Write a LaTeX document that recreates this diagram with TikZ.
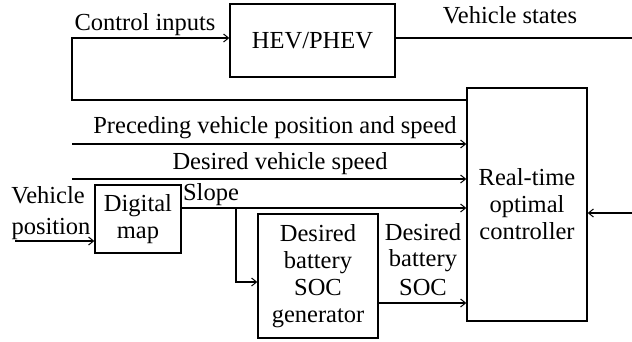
\documentclass[tikz,border=0pt]{standalone}
\usepackage{fontspec}
\setmainfont{Liberation Serif}
\usetikzlibrary{arrows.meta}
\begin{document}
\begin{tikzpicture}[x=1pt,y=-1pt, line width=1.3pt,
  box/.style={draw, line width=1.3pt, inner sep=0pt, align=center, font=\fontsize{24.5}{27}\selectfont},
  lbl/.style={font=\fontsize{24.5}{27}\selectfont, inner sep=0pt, align=center},
  arr/.style={-{Straight Barb[length=5pt,width=8pt,line width=1pt]}}]
\useasboundingbox (0,0) rectangle (632,341);
% boxes
\node[box, minimum width=165pt, minimum height=73pt] (hev) at (312.5,40.5) {HEV/PHEV};
\node[box, minimum width=120pt, minimum height=233pt] (ctrl) at (527,204.5) {Real-time\\optimal\\controller};
\node[box, minimum width=86pt, minimum height=68pt] (map) at (138,219) {Digital\\map};
\node[box, minimum width=120pt, minimum height=124pt] (soc) at (318,276) {Desired\\battery\\SOC\\generator};
% helper coordinates
\coordinate (y38) at (0,38);
\coordinate (y100) at (0,100);
\coordinate (y144) at (0,144);
\coordinate (y179) at (0,179);
\coordinate (y208) at (0,208);
\coordinate (y213) at (0,213);
\coordinate (y241) at (0,241);
\coordinate (y282) at (0,282);
\coordinate (y303) at (0,303);
\coordinate (fbB) at (72,100);
\coordinate (fbT) at (72,38);
\coordinate (vsEnd) at (632,38);
\coordinate (rIn) at (632,213);
\coordinate (pvStart) at (72,144);
\coordinate (dsStart) at (72,179);
\coordinate (brTop) at (236,208);
\coordinate (brBot) at (236,282);
\coordinate (vpStart) at (15,241);
% connectors
\draw[arr] (ctrl.west |- y100) -- (fbB) -- (fbT) -- (hev.west |- y38);
\draw (hev.east |- y38) -- (vsEnd);
\draw[arr] (rIn) -- (ctrl.east |- y213);
\draw[arr] (pvStart) -- (ctrl.west |- y144);
\draw[arr] (dsStart) -- (ctrl.west |- y179);
\draw[arr] (map.east |- y208) -- (ctrl.west |- y208);
\draw[arr] (brTop) -- (brBot) -- (soc.west |- y282);
\draw[arr] (soc.east |- y303) -- (ctrl.west |- y303);
\draw[arr] (vpStart) -- (map.west |- y241);
% labels
\node[lbl, anchor=base] (lci) at (145,30) {Control inputs};
\node[lbl, anchor=base] (lvs) at (510,23) {Vehicle states};
\node[lbl, anchor=base] (lpv) at (275,133) {Preceding vehicle position and speed};
\node[lbl, anchor=base] (lds) at (280,169) {Desired vehicle speed};
\node[lbl, anchor=base] (lsl) at (211,200) {Slope};
\node[lbl, anchor=base] (lvp1) at (48,203) {Vehicle};
\node[lbl, anchor=base] (lvp2) at (51,234) {position};
\node[lbl, anchor=base] (lso1) at (423,240) {Desired};
\node[lbl, anchor=base] (lso2) at (423,266) {battery};
\node[lbl, anchor=base] (lso3) at (423,295) {SOC};
\end{tikzpicture}
\end{document}
